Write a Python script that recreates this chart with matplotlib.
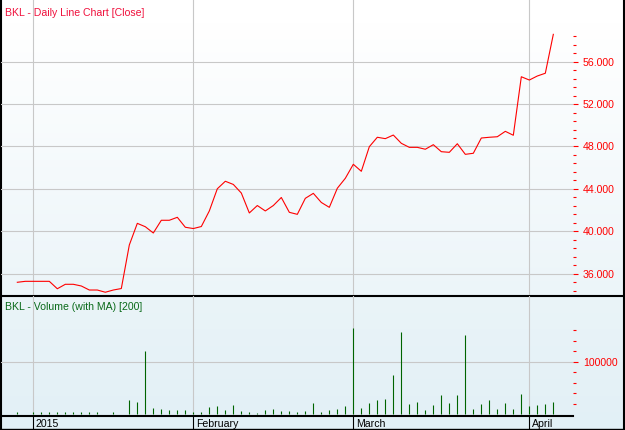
"""Daily close line and volume bars for BKL, Jan - Apr 2015."""

import numpy as np
import matplotlib
matplotlib.use("Agg")
import matplotlib.pyplot as plt
from matplotlib.ticker import FuncFormatter
from matplotlib.transforms import offset_copy

# one value per trading day, index 2 = first session of January
close = [35.19, 35.28, 35.28, 35.28, 35.28, 34.58, 35.00, 35.00, 34.84, 34.46,
         34.46, 34.25, 34.46, 34.60, 38.71, 40.75, 40.43, 39.84, 41.04, 41.04,
         41.32, 40.38, 40.26, 40.45, 41.92, 44.01, 44.72, 44.42, 43.61, 41.73,
         42.43, 41.92, 42.43, 43.19, 41.79, 41.60, 43.11, 43.58, 42.72, 42.26,
         44.06, 45.00, 46.32, 45.66, 47.98, 48.87, 48.74, 49.08, 48.30, 47.92,
         47.92, 47.74, 48.17, 47.51, 47.45, 48.26, 47.26, 47.36, 48.80, 48.87,
         48.92, 49.43, 49.06, 54.58, 54.27, 54.65, 54.91, 58.58]
volume = [4800, 0, 4000, 4800, 4800, 4800, 4800, 4800, 4800, 4800,
          4800, 0, 4800, 0, 27600, 23200, 121000, 12400, 10500, 8600,
          8600, 8600, 5000, 4800, 14300, 16200, 8600, 18100, 6700, 4800,
          2900, 8600, 10500, 6700, 6700, 4800, 6700, 21900, 4800, 8600,
          10500, 16200, 164800, 12400, 21900, 27600, 29500, 75200, 157000, 20000,
          23800, 8600, 18100, 37100, 21900, 37100, 151400, 10500, 20000, 27600,
          10500, 21900, 10500, 39000, 16200, 18100, 20000, 23800]
month_labels = ["2015", "February", "March", "April"]
month_starts = [2, 22, 42, 64]
price_ticks = [36, 40, 44, 48, 52, 56]
volume_ticks = [100000]

RED = "#ff0000"
GREEN = "#006400"
GRID = "#c8c8c8"

plt.rcParams["font.family"] = ["Liberation Sans", "DejaVu Sans"]
plt.rcParams["font.size"] = 7.6

W, H = 625, 430
fig = plt.figure(figsize=(W / 100, H / 100), dpi=100)


def rect(x0, y0, x1, y1):
    """Pixel box (top-left origin) to figure fraction."""
    return [x0 / W, 1 - y1 / H, (x1 - x0) / W, (y1 - y0) / H]


def gradient(c0, c1, n=200, hold=0.0):
    t = np.clip((np.linspace(0, 1, n) - hold) / (1 - hold), 0, 1)[:, None]
    c0 = np.array(c0) / 255.0
    c1 = np.array(c1) / 255.0
    return (c0 + (c1 - c0) * t)[:, None, :]


# background, frame and panel separators
bg = fig.add_axes([0, 0, 1, 1])
bg.set_xlim(0, W)
bg.set_ylim(H, 0)
bg.axis("off")
bg.imshow(gradient((255, 255, 255), (236, 245, 249), hold=0.08),
          extent=(0, 624, 296, 0), aspect="auto", zorder=0)
bg.imshow(gradient((234, 244, 248), (226, 240, 246)),
          extent=(0, 624, 429, 296), aspect="auto", zorder=0)
bg.plot([0.5, 0.5], [0, 429.5], color="black", lw=1.5)
bg.plot([623.5, 623.5], [0, 429.5], color="black", lw=1.5)
bg.plot([0, 624], [429, 429], color="black", lw=1)
bg.plot([0, 624], [295.5, 295.5], color="black", lw=1.5)
bg.text(5, 16.5, "BKL - Daily Line Chart [Close]", color="#f0103c",
        va="baseline")
bg.text(5, 309.5, "BKL - Volume (with MA) [200]", color="#0a6a1a",
        va="baseline")

x = np.arange(len(close))
xlim = (-2.04, 69.46)

# price panel
ax = fig.add_axes(rect(1, 0, 573, 295))
ax.patch.set_visible(False)
ax.plot(x, close, color=RED, lw=0.8, zorder=3)
ax.set_xlim(*xlim)
ax.set_ylim(33.99, 61.82)
ax.set_xticks(month_starts)
ax.tick_params(axis="x", length=0, labelbottom=False)
ax.yaxis.tick_right()
ax.set_yticks(price_ticks)
ax.set_yticks(np.arange(34.4, 58.5, 0.8), minor=True)
ax.yaxis.set_major_formatter(FuncFormatter(lambda v, _: "{:.3f}".format(v)))
ax.tick_params(axis="y", which="major", direction="out", length=3.6,
               width=0.8, color=RED, labelcolor=RED, pad=3.4)
ax.tick_params(axis="y", which="minor", direction="out", length=2.2,
               width=0.8, color=RED)
ax.grid(True, color=GRID, lw=0.8)
for s in ax.spines.values():
    s.set_visible(False)

# volume panel
ax2 = fig.add_axes(rect(1, 296, 573, 415.7))
ax2.patch.set_visible(False)
ax2.vlines(x, 0, volume, color=GREEN, lw=0.8, zorder=3)
ax2.set_xlim(*xlim)
ax2.set_ylim(-2286, 225714)
ax2.yaxis.tick_right()
ax2.set_yticks(volume_ticks)
ax2.set_yticks(np.arange(20000, 160001, 20000), minor=True)
ax2.yaxis.set_major_formatter(FuncFormatter(lambda v, _: "{:.0f}".format(v)))
ax2.tick_params(axis="y", which="major", direction="out", length=3.6,
                width=0.8, color=RED, labelcolor=RED, pad=3.4)
ax2.tick_params(axis="y", which="minor", direction="out", length=2.2,
                width=0.8, color=RED)
ax2.set_xticks(month_starts)
ax2.tick_params(axis="x", direction="out", length=9.6, width=0.8,
                color="black", labelbottom=False)
ax2.grid(True, color=GRID, lw=0.8)
for name, s in ax2.spines.items():
    s.set_visible(name == "bottom")
ax2.spines["bottom"].set_linewidth(1.5)

label_tf = offset_copy(ax2.get_xaxis_transform(), fig=fig, x=1.9, y=-7.9,
                       units="points")
for pos, lab in zip(month_starts, month_labels):
    ax2.text(pos, 0, lab, transform=label_tf, va="baseline", ha="left",
             color="black")

fig.savefig("out.png", dpi=100)
